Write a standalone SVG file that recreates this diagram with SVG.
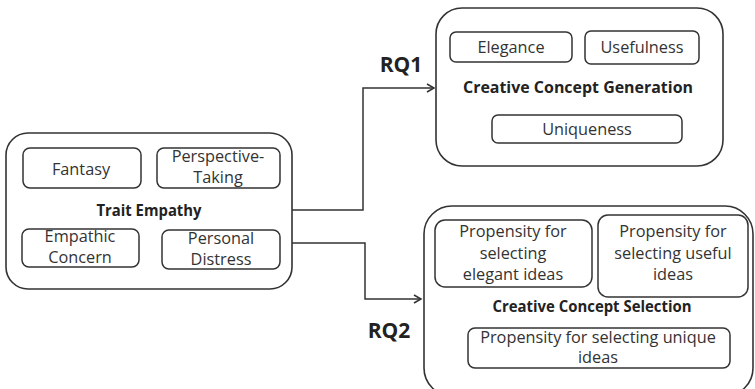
<svg xmlns="http://www.w3.org/2000/svg" width="755" height="389" viewBox="0 0 755 389">
<defs>
<style>
.outer{fill:#fff;stroke:#333;stroke-width:1.6}
.inner{fill:#fff;stroke:#333;stroke-width:1.5}
.t{font-family:"Open Sans","Liberation Sans",sans-serif;font-size:16.3px;fill:#333;text-anchor:middle}
.b{font-family:"Open Sans","Liberation Sans",sans-serif;font-size:15.5px;font-weight:bold;fill:#222;text-anchor:middle}
.rq{font-family:"Open Sans","Liberation Sans",sans-serif;font-size:21px;font-weight:bold;fill:#222;text-anchor:middle}
.c{fill:none;stroke:#333;stroke-width:1.5}
</style>
<marker id="arr" markerWidth="10" markerHeight="10" refX="8" refY="5" orient="auto" markerUnits="userSpaceOnUse">
<path d="M1,1 L8,5 L1,9" fill="none" stroke="#333" stroke-width="1.5"/>
</marker>
</defs>
<rect width="755" height="389" fill="#fff"/>
<g id="connectors">
<path class="c" d="M292,210 H363 V88 H434" marker-end="url(#arr)"/>
<path class="c" d="M292,243 H365 V299 H421" marker-end="url(#arr)"/>
<text class="rq" x="401" y="72">RQ1</text>
<text class="rq" x="389" y="338">RQ2</text>
</g>
<g id="trait-empathy">
<rect class="outer" x="6" y="133" width="286" height="156" rx="22"/>
<text class="b" x="149" y="216" textLength="105" lengthAdjust="spacingAndGlyphs">Trait Empathy</text>
</g>
<g id="fantasy">
<rect class="inner" x="23" y="148" width="118" height="40" rx="7"/>
<text class="t" x="81" y="175">Fantasy</text>
</g>
<g id="perspective-taking">
<rect class="inner" x="157" y="148" width="123" height="40" rx="7"/>
<text class="t" x="218" y="162">Perspective-</text>
<text class="t" x="218" y="183">Taking</text>
</g>
<g id="empathic-concern">
<rect class="inner" x="22" y="229" width="117" height="38" rx="7"/>
<text class="t" x="80" y="242">Empathic</text>
<text class="t" x="80" y="263">Concern</text>
</g>
<g id="personal-distress">
<rect class="inner" x="162" y="230" width="118" height="39" rx="7"/>
<text class="t" x="221" y="244">Personal</text>
<text class="t" x="221" y="265">Distress</text>
</g>
<g id="creative-concept-generation">
<rect class="outer" x="436" y="8" width="287" height="158" rx="26"/>
<text class="b" x="578" y="93" textLength="230" lengthAdjust="spacingAndGlyphs">Creative Concept Generation</text>
</g>
<g id="elegance">
<rect class="inner" x="450" y="32" width="122" height="30" rx="6"/>
<text class="t" x="511" y="53">Elegance</text>
</g>
<g id="usefulness">
<rect class="inner" x="585" y="31" width="114" height="33" rx="6"/>
<text class="t" x="642" y="53">Usefulness</text>
</g>
<g id="uniqueness">
<rect class="inner" x="492" y="115" width="190" height="28" rx="6"/>
<text class="t" x="587" y="135">Uniqueness</text>
</g>
<g id="creative-concept-selection">
<rect class="outer" x="424" y="206" width="329" height="190" rx="28"/>
<text class="b" x="592" y="312" textLength="199" lengthAdjust="spacingAndGlyphs">Creative Concept Selection</text>
</g>
<g id="elegant-ideas">
<rect class="inner" x="435" y="220" width="157" height="67" rx="10"/>
<text class="t" x="513" y="237">Propensity for</text>
<text class="t" x="513" y="259">selecting</text>
<text class="t" x="513" y="280">elegant ideas</text>
</g>
<g id="useful-ideas">
<rect class="inner" x="598" y="215" width="150" height="82" rx="10"/>
<text class="t" x="673" y="237">Propensity for</text>
<text class="t" x="673" y="259">selecting useful</text>
<text class="t" x="673" y="280">ideas</text>
</g>
<g id="unique-ideas">
<rect class="inner" x="468" y="328" width="262" height="40" rx="7"/>
<text class="t" x="598" y="343">Propensity for selecting unique</text>
<text class="t" x="598" y="363">ideas</text>
</g>
</svg>
